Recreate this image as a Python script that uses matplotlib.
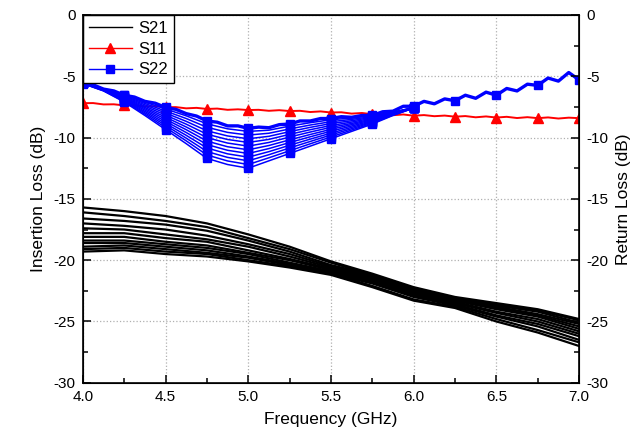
import numpy as np
import matplotlib.pyplot as plt
from matplotlib.ticker import MultipleLocator
from matplotlib.lines import Line2D

plt.rcParams['font.family'] = ['Liberation Sans', 'DejaVu Sans']
plt.rcParams['axes.unicode_minus'] = False

# frequency grids (GHz)
freq_s21 = np.arange(4.0, 7.001, 0.25)
freq_fine = np.arange(4.0, 7.001, 0.0625)
freq_band = np.arange(4.0, 6.001, 0.125)

# S21 insertion loss, one row per trace (dB)
s21 = [
    [-15.7, -16.0, -16.4, -17.0, -17.9, -18.9, -20.1, -21.1, -22.2, -23.0, -23.5, -24.0, -24.8],
    [-16.1, -16.4, -16.8, -17.3, -18.2, -19.1, -20.2, -21.2, -22.3, -23.1, -23.6, -24.1, -24.9],
    [-16.6, -16.8, -17.1, -17.6, -18.4, -19.3, -20.4, -21.2, -22.3, -23.1, -23.7, -24.2, -25.1],
    [-17.0, -17.2, -17.5, -18.0, -18.7, -19.5, -20.5, -21.3, -22.4, -23.2, -23.8, -24.4, -25.2],
    [-17.4, -17.5, -17.9, -18.3, -18.9, -19.7, -20.6, -21.4, -22.5, -23.2, -23.9, -24.5, -25.4],
    [-17.8, -17.8, -18.2, -18.5, -19.2, -19.9, -20.7, -21.5, -22.6, -23.3, -24.0, -24.6, -25.6],
    [-18.1, -18.1, -18.5, -18.8, -19.4, -20.0, -20.8, -21.6, -22.7, -23.4, -24.2, -24.8, -25.8],
    [-18.4, -18.4, -18.7, -19.0, -19.5, -20.2, -20.9, -21.7, -22.8, -23.5, -24.3, -25.0, -26.0],
    [-18.6, -18.6, -18.9, -19.2, -19.7, -20.3, -21.0, -21.8, -22.9, -23.6, -24.5, -25.2, -26.2],
    [-18.9, -18.8, -19.1, -19.4, -19.8, -20.4, -21.1, -21.9, -23.0, -23.7, -24.6, -25.4, -26.5],
    [-19.1, -19.0, -19.3, -19.5, -20.0, -20.5, -21.1, -22.1, -23.2, -23.8, -24.8, -25.7, -26.7],
    [-19.3, -19.2, -19.5, -19.7, -20.1, -20.6, -21.2, -22.2, -23.3, -23.9, -25.0, -25.9, -27.0],
]

# S11 return loss (dB)
s11 = [-7.20, -7.19, -7.30, -7.29, -7.38, -7.36, -7.47, -7.44, -7.53, -7.52,
       -7.62, -7.58, -7.67, -7.64, -7.74, -7.70, -7.76, -7.74, -7.82, -7.77,
       -7.84, -7.82, -7.92, -7.87, -7.96, -7.94, -8.05, -8.00, -8.10, -8.07,
       -8.18, -8.12, -8.22, -8.17, -8.26, -8.21, -8.30, -8.25, -8.35, -8.28,
       -8.37, -8.31, -8.41, -8.34, -8.42, -8.36, -8.45, -8.38, -8.42]

# S22 return loss, main trace (dB)
s22 = [-5.50, -5.70, -6.05, -6.20, -6.55, -6.70, -7.05, -7.20, -7.55, -7.70,
       -8.05, -8.25, -8.65, -8.75, -9.05, -9.05, -9.25, -9.15, -9.20, -8.95,
       -8.90, -8.65, -8.65, -8.45, -8.45, -8.30, -8.35, -8.20, -8.20, -7.90,
       -7.85, -7.45, -7.45, -7.05, -7.25, -6.85, -7.00, -6.55, -6.80, -6.30,
       -6.55, -6.00, -6.20, -5.65, -5.75, -5.15, -5.40, -4.70, -5.30]

# S22 spread of the other traces between 4 and 6 GHz (dB)
s22_band = [
    [-5.51, -6.02, -6.55, -7.11, -7.67, -8.23, -8.88, -9.29, -9.50, -9.40, -9.07, -8.79, -8.55, -8.41, -8.22, -7.93, -7.55],
    [-5.52, -6.04, -6.61, -7.22, -7.84, -8.45, -9.16, -9.58, -9.80, -9.65, -9.30, -8.98, -8.71, -8.52, -8.29, -7.95, -7.56],
    [-5.53, -6.05, -6.66, -7.33, -8.00, -8.68, -9.45, -9.87, -10.10, -9.90, -9.52, -9.17, -8.86, -8.63, -8.35, -7.98, -7.56],
    [-5.54, -6.07, -6.72, -7.44, -8.17, -8.91, -9.73, -10.16, -10.40, -10.15, -9.74, -9.36, -9.02, -8.74, -8.42, -8.01, -7.57],
    [-5.55, -6.09, -6.77, -7.55, -8.34, -9.14, -10.01, -10.45, -10.70, -10.40, -9.96, -9.55, -9.17, -8.85, -8.49, -8.04, -7.57],
    [-5.55, -6.11, -6.83, -7.65, -8.51, -9.36, -10.29, -10.75, -11.00, -10.65, -10.19, -9.75, -9.33, -8.95, -8.56, -8.06, -7.58],
    [-5.56, -6.13, -6.88, -7.76, -8.68, -9.59, -10.57, -11.04, -11.30, -10.90, -10.41, -9.94, -9.48, -9.06, -8.63, -8.09, -7.58],
    [-5.57, -6.15, -6.94, -7.87, -8.85, -9.82, -10.85, -11.33, -11.60, -11.15, -10.63, -10.13, -9.64, -9.17, -8.70, -8.12, -7.59],
    [-5.58, -6.16, -6.99, -7.98, -9.01, -10.05, -11.14, -11.62, -11.90, -11.40, -10.85, -10.32, -9.79, -9.28, -8.76, -8.15, -7.59],
    [-5.59, -6.18, -7.05, -8.09, -9.18, -10.27, -11.42, -11.91, -12.20, -11.65, -11.08, -10.51, -9.95, -9.39, -8.83, -8.17, -7.60],
    [-5.60, -6.20, -7.10, -8.20, -9.35, -10.50, -11.70, -12.20, -12.50, -11.90, -11.30, -10.70, -10.10, -9.50, -8.90, -8.20, -7.60],
]

fig = plt.figure(figsize=(6.42, 4.38), dpi=100)
ax = fig.add_axes([0.129, 0.126, 0.773, 0.840])

for row in s21:
    ax.plot(freq_s21, row, color='black', lw=1.6)

ax.plot(freq_fine, s11, color='red', lw=1.4, marker='^', markersize=7,
        markevery=4)

for row in s22_band:
    ax.plot(freq_band, row, color='blue', lw=1.1, marker='s', markersize=6,
            markevery=2)
ax.plot(freq_fine, s22, color='blue', lw=2.4, marker='s', markersize=6,
        markevery=4)

ax.set_xlim(4.0, 7.0)
ax.set_ylim(-30, 0)
ax.xaxis.set_major_locator(MultipleLocator(0.5))
ax.xaxis.set_minor_locator(MultipleLocator(0.25))
ax.yaxis.set_major_locator(MultipleLocator(5))
ax.yaxis.set_minor_locator(MultipleLocator(2.5))
ax.xaxis.set_major_formatter(plt.FormatStrFormatter('%.1f'))
ax.tick_params(which='both', direction='in', top=False, right=False,
               labelsize=11, width=1.1)
ax.tick_params(which='major', length=6, pad=5)
ax.tick_params(which='minor', length=3.5)
ax.grid(True, which='major', linestyle=':', color='#b0b0b0', lw=0.9)
ax.set_axisbelow(True)
for sp in ax.spines.values():
    sp.set_linewidth(1.2)

ax.set_xlabel('Frequency (GHz)', fontsize=12.5, labelpad=6)
ax.set_ylabel('Insertion Loss (dB)', fontsize=12.5, labelpad=6)

ax2 = ax.twinx()
ax2.set_ylim(-30, 0)
ax2.yaxis.set_major_locator(MultipleLocator(5))
ax2.yaxis.set_minor_locator(MultipleLocator(2.5))
ax2.tick_params(which='both', direction='in', labelsize=11, width=1.1)
ax2.tick_params(which='major', length=6, pad=5)
ax2.tick_params(which='minor', length=3.5)
ax2.set_ylabel('Return Loss (dB)', fontsize=12.5, labelpad=6)

handles = [
    Line2D([], [], color='black', lw=1.0),
    Line2D([], [], color='red', lw=1.0, marker='^', markersize=7),
    Line2D([], [], color='blue', lw=1.0, marker='s', markersize=6),
]
leg = ax.legend(handles, ['S21', 'S11', 'S22'], loc='upper left',
                borderaxespad=0, fancybox=False, edgecolor='black',
                framealpha=1, fontsize=12, handlelength=2.6,
                labelspacing=0.35, borderpad=0.35, handletextpad=0.4)
leg.get_frame().set_linewidth(1.0)

fig.savefig('out.png', dpi=100)
